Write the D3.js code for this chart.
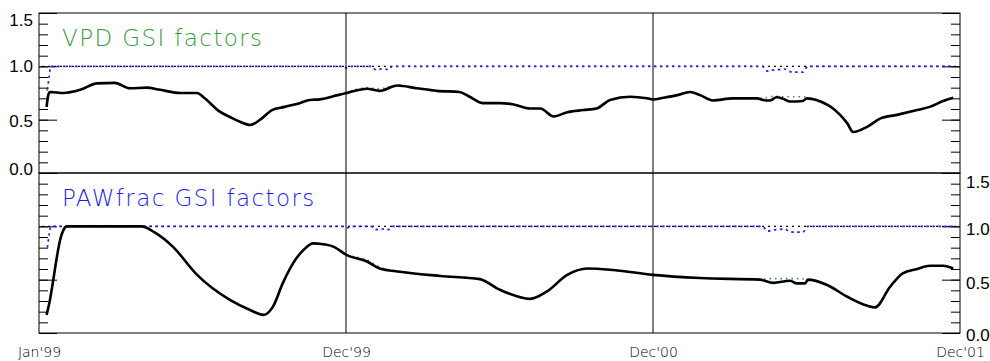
<!DOCTYPE html>
<html>
<head>
<meta charset="utf-8">
<script src="https://cdn.jsdelivr.net/npm/d3@7/dist/d3.min.js"></script>
<style>
  body { margin: 0; background: #fff; }
  svg { display: block; }
</style>
</head>
<body>
<svg class="main-svg" width="990" height="361"></svg>
<script>
// x positions are days since Jan'99
const xTickDays = [0, 365, 730, 1095]
const xTickLabels = ["Jan'99", "Dec'99", "Dec'00", "Dec'01"]
const gridDays = [365, 730]
const yMajorTicks = [0, 0.5, 1.0, 1.5]
const yMinorTicks = [0, 0.1, 0.2, 0.3, 0.4, 0.5, 0.6, 0.7, 0.8, 0.9, 1.0, 1.1, 1.2, 1.3, 1.4, 1.5]

const panelTitles = ['VPD GSI factors', 'PAWfrac GSI factors']

// reference factor at 1.0 (black dotted), same in both panels
const refFactor = [[0, 1.0], [1095, 1.0]]

// top panel : VPD
const vpdTotal = [
  [9, 0.62], [11, 0.73], [13, 0.76], [29, 0.75], [49, 0.78], [69, 0.84], [90, 0.845],
  [108, 0.795], [128, 0.80], [144, 0.78], [168, 0.75], [188, 0.75], [197, 0.70],
  [215, 0.575], [227, 0.525], [239, 0.48], [251, 0.45], [263, 0.50], [277, 0.59],
  [292, 0.62], [310, 0.655], [322, 0.685], [334, 0.69], [350, 0.72], [366, 0.75],
  [390, 0.79], [405, 0.77], [426, 0.82], [449, 0.795], [473, 0.77], [500, 0.76],
  [512, 0.715], [528, 0.655], [548, 0.655], [563, 0.645], [584, 0.605], [596, 0.605],
  [612, 0.53], [628, 0.57], [647, 0.59], [663, 0.605], [679, 0.685], [703, 0.715],
  [723, 0.70], [730, 0.69], [742, 0.705], [759, 0.73], [774, 0.76], [786, 0.73],
  [801, 0.68], [825, 0.70], [854, 0.70], [861, 0.685], [869, 0.68], [877, 0.71],
  [885, 0.695], [893, 0.67], [908, 0.675], [913, 0.70], [937, 0.64], [944, 0.605],
  [961, 0.465], [968, 0.385], [985, 0.435], [1000, 0.51], [1020, 0.545], [1044, 0.59],
  [1059, 0.62], [1075, 0.675], [1087, 0.705]
]
const vpdGreen = [
  [9, 0.78], [13, 0.77], [29, 0.75], [49, 0.78], [69, 0.84], [90, 0.845],
  [108, 0.795], [128, 0.80], [144, 0.78], [168, 0.75], [188, 0.75], [197, 0.70],
  [215, 0.575], [227, 0.525], [239, 0.48], [251, 0.45], [263, 0.50], [277, 0.59],
  [292, 0.62], [310, 0.655], [322, 0.685], [334, 0.69], [350, 0.72], [366, 0.76],
  [390, 0.80], [405, 0.79], [426, 0.825], [449, 0.795], [473, 0.77], [500, 0.76],
  [512, 0.715], [528, 0.655], [548, 0.655], [563, 0.645], [584, 0.605], [596, 0.605],
  [612, 0.53], [628, 0.57], [647, 0.59], [663, 0.605], [679, 0.685], [703, 0.715],
  [723, 0.70], [730, 0.69], [742, 0.705], [759, 0.73], [774, 0.76], [786, 0.73],
  [801, 0.68], [825, 0.70], [854, 0.70], [861, 0.70], [869, 0.715], [877, 0.72],
  [885, 0.715], [893, 0.715], [908, 0.715], [913, 0.71], [937, 0.64], [944, 0.605],
  [961, 0.465], [968, 0.385], [985, 0.435], [1000, 0.51], [1020, 0.545], [1044, 0.59],
  [1059, 0.62], [1075, 0.675], [1087, 0.705]
]
const vpdBlue = [
  [10, 0.78], [12, 0.90], [14, 1.0], [360, 1.0], [366, 0.985], [372, 1.0], [395, 1.0],
  [400, 0.97], [408, 0.975], [416, 0.97], [420, 1.0], [860, 1.0], [866, 0.955],
  [872, 0.965], [880, 0.97], [886, 0.975], [893, 0.95], [900, 0.945], [908, 0.945],
  [914, 1.0], [1087, 1.0]
]

// bottom panel : PAWfrac
const pawTotal = [
  [9, 0.17], [13, 0.31], [17, 0.50], [21, 0.70], [25, 0.87], [29, 0.965], [33, 1.0],
  [122, 1.0], [138, 0.94], [159, 0.81], [188, 0.545], [227, 0.31], [251, 0.215],
  [267, 0.17], [278, 0.245], [290, 0.47], [306, 0.70], [316, 0.79], [326, 0.84],
  [336, 0.835], [350, 0.81], [366, 0.73], [390, 0.67], [405, 0.605], [429, 0.575],
  [477, 0.535], [524, 0.505], [548, 0.405], [584, 0.32], [604, 0.39], [628, 0.545],
  [652, 0.605], [683, 0.59], [730, 0.545], [786, 0.515], [857, 0.50], [873, 0.47],
  [893, 0.49], [901, 0.465], [911, 0.465], [914, 0.50], [937, 0.45], [961, 0.34],
  [985, 0.255], [994, 0.24], [1012, 0.435], [1027, 0.56], [1044, 0.60], [1059, 0.63],
  [1075, 0.63], [1087, 0.605]
]
const pawGreen = [
  [9, 0.17], [13, 0.31], [17, 0.50], [21, 0.70], [25, 0.87], [29, 0.965], [33, 1.0],
  [122, 1.0], [138, 0.94], [159, 0.81], [188, 0.545], [227, 0.31], [251, 0.215],
  [267, 0.17], [278, 0.245], [290, 0.47], [306, 0.70], [316, 0.79], [326, 0.84],
  [336, 0.835], [350, 0.81], [366, 0.735], [390, 0.685], [405, 0.62], [429, 0.575],
  [477, 0.535], [524, 0.505], [548, 0.405], [584, 0.32], [604, 0.39], [628, 0.545],
  [652, 0.605], [683, 0.59], [730, 0.545], [786, 0.515], [857, 0.505], [873, 0.51],
  [893, 0.51], [901, 0.51], [911, 0.505], [914, 0.50], [937, 0.45], [961, 0.34],
  [985, 0.255], [994, 0.24], [1012, 0.435], [1027, 0.56], [1044, 0.60], [1059, 0.63],
  [1075, 0.63], [1087, 0.605]
]
const pawBlue = [
  [10, 0.80], [12, 0.92], [14, 1.0], [360, 1.0], [366, 0.985], [372, 1.0], [395, 1.0],
  [400, 0.97], [408, 0.975], [416, 0.97], [420, 1.0], [860, 1.0], [866, 0.955],
  [872, 0.965], [880, 0.97], [886, 0.975], [893, 0.95], [900, 0.945], [908, 0.945],
  [914, 1.0], [1087, 1.0]
]

const plotLeft = 39
const plotRight = 960
const panels = [
  { top: 13, bottom: 173, title: panelTitles[0], titleColor: '#3a9a3a', labelSide: 'left',
    series: [refFactor, vpdBlue, vpdGreen, vpdTotal], labelShift: [-4, 1, 0, 7] },
  { top: 173, bottom: 333, title: panelTitles[1], titleColor: '#1c1cf4', labelSide: 'right',
    series: [refFactor, pawBlue, pawGreen, pawTotal], labelShift: [2, 3, 3, 9] }
]

const svg = d3.select('.main-svg')
const xScale = d3.scaleLinear().domain([0, 1095]).range([plotLeft, plotRight])

/**
 * Draws the inward ticks of one y axis, with or without labels.
 */
function drawYAxis (g, yScale, side, labelled, labelShift) {
  const axisFn = side === 'left' ? d3.axisLeft : d3.axisRight
  const xPos = side === 'left' ? plotLeft : plotRight

  g.append('g')
    .attr('transform', `translate(${xPos},0)`)
    .call(axisFn(yScale).tickValues(yMinorTicks).tickSize(-9).tickFormat(''))
    .call(a => a.select('.domain').remove())

  const major = g.append('g')
    .attr('transform', `translate(${xPos},0)`)
    .call(axisFn(yScale).tickValues(yMajorTicks).tickSize(-18).tickPadding(labelled ? 6 : 0)
      .tickFormat(labelled ? d3.format('.1f') : ''))
    .call(a => a.select('.domain').remove())

  g.selectAll('.tick line').attr('stroke', '#000').attr('stroke-width', 1)
  major.selectAll('.tick text')
    .attr('fill', '#000')
    .attr('font-family', 'Liberation Sans, Arial, sans-serif')
    .attr('font-size', 17)
    .attr('y', (d, i) => labelShift[i])
}

const line = (yScale) => d3.line()
  .x(d => xScale(d[0]))
  .y(d => yScale(d[1]))
  .curve(d3.curveMonotoneX)

const styles = [
  { stroke: '#000', width: 1.4, dash: '2,4', offset: 3 },
  { stroke: '#1c1cf4', width: 1.7, dash: '2.5,3.5', offset: 0 },
  { stroke: '#3a9a3a', width: 1.6, dash: '1.5,4', offset: 0 },
  { stroke: '#000', width: 2.6, dash: null, offset: 0 }
]

panels.forEach((p) => {
  const yScale = d3.scaleLinear().domain([0, 1.5]).range([p.bottom, p.top])
  const g = svg.append('g')

  drawYAxis(g, yScale, 'left', p.labelSide === 'left', p.labelShift)
  drawYAxis(g, yScale, 'right', p.labelSide === 'right', p.labelShift)

  p.series.forEach((s, i) => {
    g.append('path')
      .datum(s)
      .attr('d', line(yScale))
      .attr('fill', 'none')
      .attr('stroke', styles[i].stroke)
      .attr('stroke-width', styles[i].width)
      .attr('stroke-dasharray', styles[i].dash)
      .attr('stroke-dashoffset', styles[i].offset)
      .attr('stroke-linejoin', 'round')
  })

  g.append('text')
    .attr('x', 62)
    .attr('y', p.top + 33)
    .attr('fill', p.titleColor)
    .attr('font-family', 'DejaVu Sans, sans-serif')
    .attr('font-weight', 300)
    .attr('font-size', 23)
    .attr('letter-spacing', 1.4)
    .text(p.title)

  g.append('rect')
    .attr('x', plotLeft)
    .attr('y', p.top)
    .attr('width', plotRight - plotLeft)
    .attr('height', p.bottom - p.top)
    .attr('fill', 'none')
    .attr('stroke', '#000')
    .attr('stroke-width', 1)
})

// vertical year separators through both panels
svg.selectAll('.grid')
  .data(gridDays)
  .enter()
  .append('line')
  .attr('class', 'grid')
  .attr('x1', d => xScale(d))
  .attr('x2', d => xScale(d))
  .attr('y1', panels[0].top)
  .attr('y2', panels[1].bottom)
  .attr('stroke', '#000')
  .attr('stroke-width', 1)

// date labels under the bottom panel
svg.append('g')
  .attr('transform', `translate(0,${panels[1].bottom})`)
  .call(d3.axisBottom(xScale).tickValues(xTickDays).tickSize(0).tickPadding(14)
    .tickFormat((d, i) => xTickLabels[i]))
  .call(a => a.select('.domain').remove())
  .selectAll('text')
  .attr('fill', '#000')
  .attr('font-family', 'DejaVu Sans, sans-serif')
  .attr('font-weight', 300)
  .attr('font-size', 14)
</script>
</body>
</html>
